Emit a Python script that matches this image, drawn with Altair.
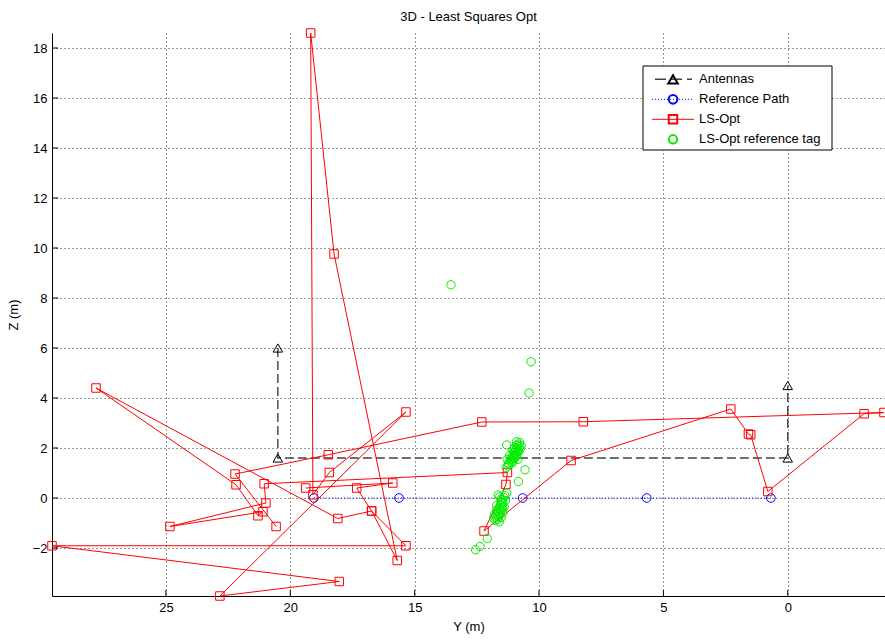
import altair as alt
import pandas as pd

# ---- data (Y, Z in metres) ----
ant_y = [20.5, 20.5, 0.0, 0.0]
ant_z = [6.0, 1.6, 1.6, 4.5]

ref_y = [19.05, 15.63, 10.66, 5.67, 0.68]
ref_z = [0.0, 0.0, 0.0, 0.0, 0.0]

# least-squares estimates, in time order
ls_y = [19.38, 15.88, 17.33, 16.73, 15.35, 29.58, 18.03, 22.83, 15.35, 18.43,
        19.09, 19.18, 18.24, 15.70, 16.73, 18.09, 27.81, 22.18, 21.30, 21.10,
        24.84, 20.98, 21.05, 11.27, 11.33, 12.21, 8.71, 2.29, 1.58, 1.49,
        0.80, -3.07, -3.87, 8.22, 12.30, 18.47, 22.22, 20.57]
ls_z = [0.40, 0.60, 0.40, -0.52, -1.91, -1.91, -3.34, -3.92, 3.44, 1.02,
        0.13, 18.60, 9.76, -2.50, -0.52, -0.82, 4.40, 0.53, -0.71, -0.55,
        -1.14, -0.20, 0.57, 1.02, 0.54, -1.32, 1.50, 3.56, 2.56, 2.53,
        0.26, 3.37, 3.42, 3.05, 3.04, 1.73, 0.96, -1.14]

# reference-tag estimates
tag_y = [13.54, 10.32, 10.40,
         10.78, 10.84, 10.80, 10.90, 10.88, 10.95, 10.86, 10.92, 11.00, 10.98,
         11.05, 10.93, 11.02, 11.10, 11.15, 11.08, 11.20, 11.25, 11.30, 11.23,
         10.72, 10.76, 10.82, 10.90, 10.98, 11.05, 11.12, 11.05, 10.98, 10.90,
         11.18, 11.28, 11.32, 10.85,
         10.56, 10.83, 11.30, 11.64,
         11.42, 11.48, 11.52, 11.45, 11.56, 11.50, 11.60, 11.55, 11.63, 11.58,
         11.68, 11.62, 11.72, 11.66, 11.76, 11.53, 11.70, 11.47,
         11.35, 11.40, 11.45, 11.52, 11.60, 11.70, 11.78, 11.82, 11.38, 11.58,
         12.08, 12.37, 12.55]
tag_z = [8.53, 5.45, 4.20,
         2.22, 2.15, 2.05, 2.10, 1.98, 1.92, 1.88, 1.80, 1.82, 1.72,
         1.68, 1.65, 1.60, 1.55, 1.45, 1.40, 1.35, 1.28, 2.12, 1.40,
         2.10, 1.95, 1.85, 1.72, 1.60, 1.48, 1.60, 1.92, 2.02, 2.25,
         1.70, 1.55, 1.22, 1.55,
         1.13, 0.66, 0.20, 0.12,
         0.02, -0.08, -0.18, -0.22, -0.30, -0.38, -0.42, -0.50, -0.55, -0.62,
         -0.66, -0.74, -0.80, -0.86, -0.90, -0.05, -0.48, -0.45,
         -0.10, -0.35, -0.60, -0.78, -0.95, -0.30, -0.65, -0.80, 0.10, 0.05,
         -1.62, -1.94, -2.07]

y_ticks = [25, 20, 15, 10, 5, 0]
z_ticks = [-2, 0, 2, 4, 6, 8, 10, 12, 14, 16, 18]

legend_labels = ["Antennas", "Reference Path", "LS-Opt", "LS-Opt reference tag"]

W, H = 833, 563
FONT = "Liberation Sans"

ant = pd.DataFrame({"Y": ant_y, "Z": ant_z, "i": range(len(ant_y))})
ref = pd.DataFrame({"Y": ref_y, "Z": ref_z, "i": range(len(ref_y))})
ls = pd.DataFrame({"Y": ls_y, "Z": ls_z, "i": range(len(ls_y))})
tag = pd.DataFrame({"Y": tag_y, "Z": tag_z})
xt = pd.DataFrame({"Y": y_ticks})
zt = pd.DataFrame({"Z": z_ticks})
one = pd.DataFrame({"k": [0]})

x_scale = alt.Scale(domain=[-3.91, 29.58], reverse=True, nice=False, zero=False)
z_scale = alt.Scale(domain=[-3.92, 18.6], nice=False, zero=False)
x_axis = alt.Axis(values=y_ticks, title="Y (m)", titlePadding=6)
z_axis = alt.Axis(values=z_ticks, title="Z (m)", titlePadding=12)


def X():
    return alt.X("Y:Q", scale=x_scale, axis=x_axis)


def Z():
    return alt.Y("Z:Q", scale=z_scale, axis=z_axis)


ant_line = alt.Chart(ant).mark_line(color="#404040", strokeDash=[9, 4], strokeWidth=1.4).encode(
    x=X(), y=Z(), order="i:Q")
ant_pts = alt.Chart(ant).mark_point(shape="triangle-up", filled=False, color="#000000",
                                    size=90, strokeWidth=1, opacity=1).encode(x=X(), y=Z())

ref_line = alt.Chart(ref).mark_line(color="#0000ff", strokeDash=[1, 2], strokeWidth=1).encode(
    x=X(), y=Z(), order="i:Q")
ref_pts = alt.Chart(ref).mark_point(shape="circle", filled=False, color="#0000ff",
                                    size=75, strokeWidth=1, opacity=1).encode(x=X(), y=Z())

ls_line = alt.Chart(ls).mark_line(color="#ff0000", strokeWidth=1).encode(
    x=X(), y=Z(), order="i:Q")
ls_pts = alt.Chart(ls).mark_point(shape="square", filled=False, color="#ff0000",
                                  size=72, strokeWidth=1, opacity=1).encode(x=X(), y=Z())

tag_pts = alt.Chart(tag).mark_point(shape="circle", filled=False, color="#00ee00",
                                    size=70, strokeWidth=1, opacity=1).encode(x=X(), y=Z())

# inward tick marks, as drawn by the classic plotting style
x_ticks = alt.Chart(xt).mark_rule(color="#000000", strokeWidth=1).encode(
    x=X(), y=alt.value(H), y2=alt.value(H - 6))
z_tick_marks = alt.Chart(zt).mark_rule(color="#000000", strokeWidth=1).encode(
    y=Z(), x=alt.value(0), x2=alt.value(6))

# legend box
LX0, LX1, LY0, LY1 = 591, 780, 33, 117
rows = [46.3, 66.3, 86.3, 106.3]
SX0, SX1, SC, TX = 600, 642, 621, 647

legend_layers = [
    alt.Chart(one).mark_rect(fill="white", stroke="#000000", strokeWidth=1).encode(
        x=alt.value(LX0), x2=alt.value(LX1), y=alt.value(LY0), y2=alt.value(LY1)),
    alt.Chart(one).mark_rule(color="#404040", strokeDash=[11, 5], strokeWidth=1.4).encode(
        x=alt.value(SX0 + 3), x2=alt.value(SX1 - 2), y=alt.value(rows[0])),
    alt.Chart(one).mark_point(shape="triangle-up", filled=False, color="#000000", size=90,
                              opacity=1).encode(x=alt.value(SC), y=alt.value(rows[0])),
    alt.Chart(one).mark_rule(color="#0000ff", strokeDash=[1, 2], strokeWidth=1).encode(
        x=alt.value(SX0), x2=alt.value(SX1), y=alt.value(rows[1])),
    alt.Chart(one).mark_point(shape="circle", filled=False, color="#0000ff", size=75,
                              opacity=1).encode(x=alt.value(SC), y=alt.value(rows[1])),
    alt.Chart(one).mark_rule(color="#ff0000", strokeWidth=1).encode(
        x=alt.value(SX0), x2=alt.value(SX1), y=alt.value(rows[2])),
    alt.Chart(one).mark_point(shape="square", filled=False, color="#ff0000", size=72,
                              opacity=1).encode(x=alt.value(SC), y=alt.value(rows[2])),
    alt.Chart(one).mark_point(shape="circle", filled=False, color="#00ee00", size=70,
                              opacity=1).encode(x=alt.value(SC), y=alt.value(rows[3])),
]
for lab, ry in zip(legend_labels, rows):
    legend_layers.append(
        alt.Chart(one).mark_text(align="left", baseline="middle", font=FONT, fontSize=13,
                                 color="#000000").encode(
            x=alt.value(TX), y=alt.value(ry), text=alt.value(lab)))

chart = alt.layer(
    ant_line, ant_pts, ref_line, ref_pts, ls_line, ls_pts, tag_pts,
    x_ticks, z_tick_marks, *legend_layers
).properties(
    width=W, height=H,
    title=alt.Title("3D - Least Squares Opt", font=FONT, fontSize=13, fontWeight="normal",
                    color="#000000", anchor="middle", offset=3),
    autosize=alt.AutoSizeParams(type="none"),
    padding={"left": 52, "top": 33, "right": 0, "bottom": 45},
).configure_view(
    stroke=None
).configure_axis(
    domainColor="#000000", domainWidth=1, tickSize=0, labelPadding=5,
    labelFont=FONT, labelFontSize=13, labelColor="#000000",
    titleFont=FONT, titleFontSize=13, titleFontWeight="normal", titleColor="#000000",
    grid=True, gridColor="#333333", gridDash=[1, 3], gridWidth=1, gridOpacity=1,
)

chart.save("out.html", embed_options={"renderer": "svg", "actions": False})
